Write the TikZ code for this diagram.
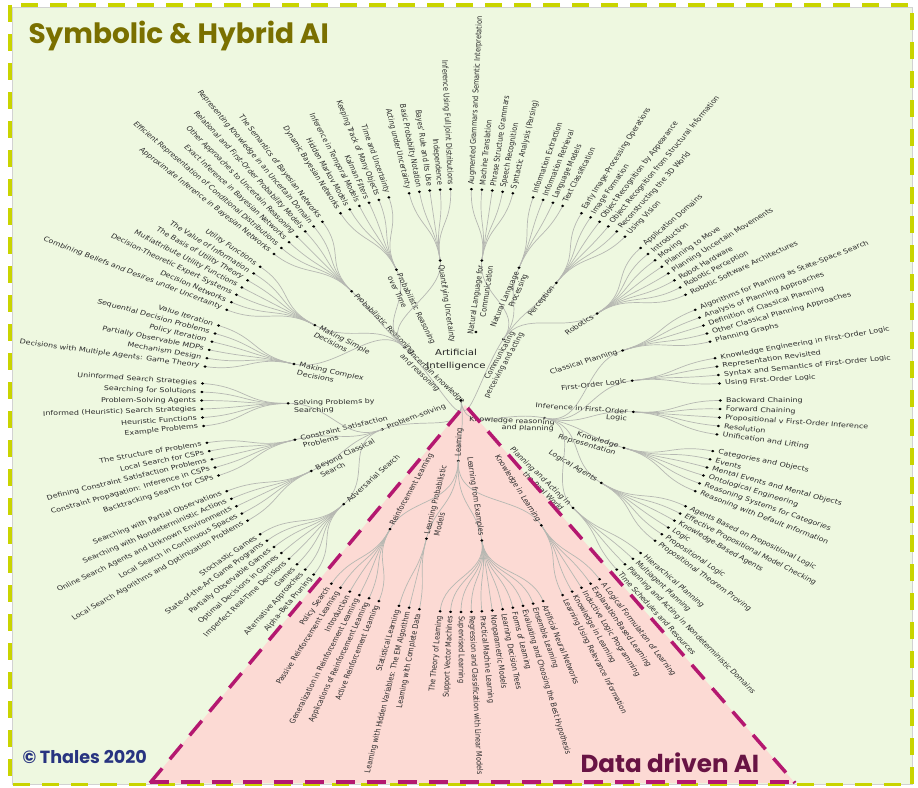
\documentclass[tikz,border=0pt]{standalone}
\usepackage{fontspec}
\setmainfont{DejaVu Sans}
\newfontfamily\titlefont{Poppins}
\usetikzlibrary{calc}

\definecolor{symbolbg}{RGB}{238,248,224}
\definecolor{symbolline}{RGB}{201,212,0}
\definecolor{datafill}{RGB}{252,218,212}
\definecolor{dataline}{RGB}{180,24,112}
\definecolor{titleolive}{RGB}{122,112,0}
\definecolor{thalesblue}{RGB}{40,52,128}
\definecolor{datatext}{RGB}{104,20,68}
\definecolor{linkgray}{RGB}{182,184,178}
\definecolor{labelgray}{RGB}{42,42,42}

\tikzset{
  link/.style={draw=linkgray, line width=0.7pt},
  treelabel/.style={font=\fontsize{6.5}{7.5}\selectfont, text=labelgray, inner xsep=4.5pt, inner ysep=0pt},
  pageframe/.style={line width=3.5pt, dash pattern=on 17pt off 12pt},
}

% radii of the three rings, angle of the root, degrees per leaf slot
\def\rA{70.5}
\def\rB{141}
\def\rC{211.5}
\def\rootang{-84.23}
\def\slot{2.307692}

% label on the root side of a node: \sidelabel{node}{angle}{line 1}{line 2}
\newcommand{\sidelabel}[4]{%
  \pgfmathtruncatemacro\side{cos(#2)>-0.01 ? 1 : 0}%
  \ifnum\side=1
    \node[treelabel, anchor=east, rotate=#2] at (#1) {#3};
    \node[treelabel, anchor=east, rotate=#2] at ($(#1)+(#2-90:7.5)$) {#4};
  \else
    \node[treelabel, anchor=west, rotate=#2+180] at (#1) {#3};
    \node[treelabel, anchor=west, rotate=#2+180] at ($(#1)+(#2+90:7.5)$) {#4};
  \fi}

% \catnode{name}{angle}{radius}
\newcommand{\catnode}[3]{%
  \expandafter\xdef\csname ang@#1\endcsname{#2}%
  \coordinate (#1) at (#2:#3);
  \draw[link] (root) .. controls (\rootang:{#3/2}) and (#2:{#3/2}) .. (#1);
  \fill (#1) circle (1.3pt);
}

% \chapnode{name}{parent}{first slot}{last slot}{line 1}{line 2}{leaves}
\newcommand{\chapnode}[7]{%
  \pgfmathsetmacro\chapang{90-(#3+#4)*\slot/2}%
  \edef\parang{\csname ang@#2\endcsname}%
  \coordinate (#1) at (\chapang:\rB);
  \draw[link] (#2) .. controls (\parang:{(\rA+\rB)/2}) and (\chapang:{(\rA+\rB)/2}) .. (#1);
  \foreach \leaftext [count=\k from 0] in {#7} {
    \pgfmathsetmacro\leafang{90-(#3+\k)*\slot}
    \draw[link] (#1) .. controls (\chapang:{(\rB+\rC)/2}) and (\leafang:{(\rB+\rC)/2}) .. (\leafang:\rC);
    \fill (\leafang:\rC) circle (1.3pt);
    \pgfmathtruncatemacro\side{cos(\leafang)>-0.01 ? 1 : 0}
    \ifnum\side=1
      \node[treelabel, anchor=west, rotate=\leafang] at (\leafang:\rC) {\leaftext};
    \else
      \node[treelabel, anchor=east, rotate=\leafang+180] at (\leafang:\rC) {\leaftext};
    \fi
  }
  \fill (#1) circle (1.3pt);
  \sidelabel{#1}{\chapang}{#5}{#6}
}

\begin{document}
\begin{tikzpicture}[x=1pt,y=1pt]
% page background, in pixels from the top left corner
\begin{scope}[shift={(-461,400.5)},y=-1pt]
  \useasboundingbox (0,0) rectangle (918,787);
  \fill[symbolbg] (12,7) rectangle (912,784);
  \draw[gray!35,line width=0.6pt] (12,7) rectangle (912,784);
  \fill[datafill] (465,405) -- (150,783) -- (795,783) -- cycle;
\end{scope}

% the radial tree, stretched sideways
\begin{scope}[xscale=1.226, transform shape]
  \coordinate (root) at (0,0);
  \catnode{comm}{60.58}{\rA}
  \catnode{know}{-14.42}{\rA}
  \catnode{learn}{-92.1}{60.5}
  \catnode{solve}{-155.77}{\rA}
  \catnode{uncert}{130.96}{\rA}
  \node[treelabel, inner xsep=0pt, anchor=east, rotate=65.7] (commlabel) at (42.4,68.5) {Communicating};
  \node[treelabel, inner xsep=0pt, anchor=east, rotate=65.7] at (49.8,67.5) {perceiving and acting};
  \node[treelabel, inner xsep=0pt, anchor=east, rotate=-2.5] (knowlabel) at (76.7,-22.2) {Knowledge reasoning};
  \node[treelabel, inner xsep=0pt, anchor=east, rotate=-2.5] at (75.9,-28.8) {and planning};
  \sidelabel{learn}{-92.1}{Learning}{}
  \sidelabel{solve}{-155.77}{Problem-solving}{}
  \sidelabel{uncert}{130.96}{Uncertain knowledge}{and reasoning}
  \fill (12.2,68.5) circle (1.3pt);

  % Communicating, perceiving and acting
  \chapnode{nlcom}{comm}{1}{5}{Natural Language for}{Communication}{Augmented Grammars and Semantic Interpretation,
    Machine Translation,Phrase Structure Grammars,Speech Recognition,Syntactic Analysis (Parsing)}
  \chapnode{nlproc}{comm}{7}{10}{Natural Language}{Processing}{Information Extraction,Information Retrieval,
    Language Models,Text Classification}
  \chapnode{percep}{comm}{12}{17}{Perception}{}{Early Image-Processing Operations,Image Formation,
    Object Recognition by Appearance,Object Recognition from Structural Information,Reconstructing the 3D World,Using Vision}
  \chapnode{robot}{comm}{19}{26}{Robotics}{}{Application Domains,Introduction,Moving,Planning to Move,
    Planning Uncertain Movements,Robot Hardware,Robotic Perception,Robotic Software Architectures}

  % Knowledge reasoning and planning
  \chapnode{classplan}{know}{28}{32}{Classical Planning}{}{Algorithms for Planning as State-Space Search,
    Analysis of Planning Approaches,Definition of Classical Planning,Other Classical Planning Approaches,Planning Graphs}
  \chapnode{folog}{know}{34}{37}{First-Order Logic}{}{Knowledge Engineering in First-Order Logic,
    Representation Revisited,Syntax and Semantics of First-Order Logic,Using First-Order Logic}
  \chapnode{infol}{know}{39}{43}{Inference in First-Order}{Logic}{Backward Chaining,Forward Chaining,
    Propositional v First-Order Inference,Resolution,Unification and Lifting}
  \chapnode{knowrep}{know}{45}{50}{Knowledge}{Representation}{Categories and Objects,Events,
    Mental Events and Mental Objects,Ontological Engineering,Reasoning Systems for Categories,Reasoning with Default Information}
  \chapnode{logagent}{know}{52}{57}{Logical Agents}{}{Agents Based on Propositional Logic,
    Effective Propositional Model Checking,Knowledge-Based Agents,Logic,Propositional Logic,Propositional Theorem Proving}
  \chapnode{realplan}{know}{59}{62}{Planning and Acting in}{the Real World}{Hierarchical Planning,
    Multiagent Planning,Planning and Acting in Nondeterministic Domains,Time Schedules and Resources}

  % Learning
  \chapnode{knowlearn}{learn}{64}{68}{Knowledge in Learning}{}{A Logical Formulation of Learning,
    Explanation-Based Learning,Inductive Logic Programming,Knowledge in Learning,Learning Using Relevance Information}
  \chapnode{examples}{learn}{70}{80}{Learning from Examples}{}{Artificial Neural Networks,Ensemble Learning,
    Evaluating and Choosing the Best Hypothesis,Forms of Learning,Learning Decision Trees,Nonparametric Models,
    Practical Machine Learning,Regression and Classification with Linear Models,Supervised Learning,
    Support Vector Machines,The Theory of Learning}
  \chapnode{problearn}{learn}{82}{84}{Learning Probabilistic}{Models}{Learning with Complete Data,
    Learning with Hidden Variables: The EM Algorithm,Statistical Learning}
  \chapnode{reinforce}{learn}{86}{91}{Reinforcement Learning}{}{Active Reinforcement Learning,
    Applications of Reinforcement Learning,Generalization in Reinforcement Learning,Introduction,
    Passive Reinforcement Learning,Policy Search}

  % Problem-solving
  \chapnode{advsearch}{solve}{93}{100}{Adversarial Search}{}{Alpha–Beta Pruning,Alternative Approaches,Games,
    Imperfect Real-Time Decisions,Optimal Decisions in Games,Partially Observable Games,
    State-of-the-Art Game Programs,Stochastic Games}
  \chapnode{beyond}{solve}{102}{106}{Beyond Classical}{Search}{Local Search Algorithms and Optimization Problems,
    Local Search in Continuous Spaces,Online Search Agents and Unknown Environments,
    Searching with Nondeterministic Actions,Searching with Partial Observations}
  \chapnode{constraint}{solve}{108}{112}{Constraint Satisfaction}{Problems}{Backtracking Search for CSPs,
    Constraint Propagation: Inference in CSPs,Defining Constraint Satisfaction Problems,Local Search for CSPs,
    The Structure of Problems}
  \chapnode{searching}{solve}{114}{119}{Solving Problems by}{Searching}{Example Problems,Heuristic Functions,
    Informed (Heuristic) Search Strategies,Problem-Solving Agents,Searching for Solutions,Uninformed Search Strategies}

  % Uncertain knowledge and reasoning
  \chapnode{complexdec}{uncert}{121}{126}{Making Complex}{Decisions}{Decisions with Multiple Agents: Game Theory,
    Mechanism Design,Partially Observable MDPs,Policy Iteration,Sequential Decision Problems,Value Iteration}
  \chapnode{simpledec}{uncert}{128}{134}{Making Simple}{Decisions}{Combining Beliefs and Desires under Uncertainty,
    Decision Networks,Decision-Theoretic Expert Systems,Multiattribute Utility Functions,The Basis of Utility Theory,
    The Value of Information,Utility Functions}
  \chapnode{probreason}{uncert}{136}{142}{Probabilistic Reasoning}{}{Approximate Inference in Bayesian Networks,
    Efficient Representation of Conditional Distributions,Exact Inference in Bayesian Networks,
    Other Approaches to Uncertain Reasoning,Relational and First-Order Probability Models,
    Representing Knowledge in an Uncertain Domain,The Semantics of Bayesian Networks}
  \chapnode{probtime}{uncert}{144}{149}{Probabilistic Reasoning}{over Time}{Dynamic Bayesian Networks,
    Hidden Markov Models,Inference in Temporal Models,Kalman Filters,Keeping Track of Many Objects,Time and Uncertainty}
  \chapnode{quantify}{uncert}{151}{155}{Quantifying Uncertainty}{}{Acting under Uncertainty,Basic Probability Notation,
    Bayes' Rule and Its Use,Independence,Inference Using Full Joint Distributions}

  \fill (root) circle (1.3pt);
  \node[font=\fontsize{8.3}{13}\selectfont, text=labelgray!85!black, align=center] (ailabel) at (-4.1,41) {Artificial\\Intelligence};
\end{scope}

% borders and titles
\begin{scope}[shift={(-461,400.5)},y=-1pt]
  \draw[symbolline, pageframe] (10,5) rectangle (912,784.5);
  \draw[dataline, line width=3.5pt, dash pattern=on 19pt off 12pt] (150,783) -- (465,405) -- (795,783);
  \draw[dataline, line width=3.5pt, dash pattern=on 19pt off 12pt] (150,782) -- (795,782);
  \node[anchor=base west, text=titleolive, font=\titlefont\bfseries\fontsize{28}{31}\selectfont] (symtitle) at (25,44) {Symbolic \& Hybrid AI};
  \node[anchor=base west, text=thalesblue, font=\titlefont\bfseries\fontsize{17.6}{20}\selectfont] (thales) at (19,763) {© Thales 2020};
  \node[anchor=base west, text=datatext, font=\titlefont\bfseries\fontsize{24.6}{27}\selectfont] (datatitle) at (577,772) {Data driven AI};
\end{scope}
\end{tikzpicture}
\end{document}
